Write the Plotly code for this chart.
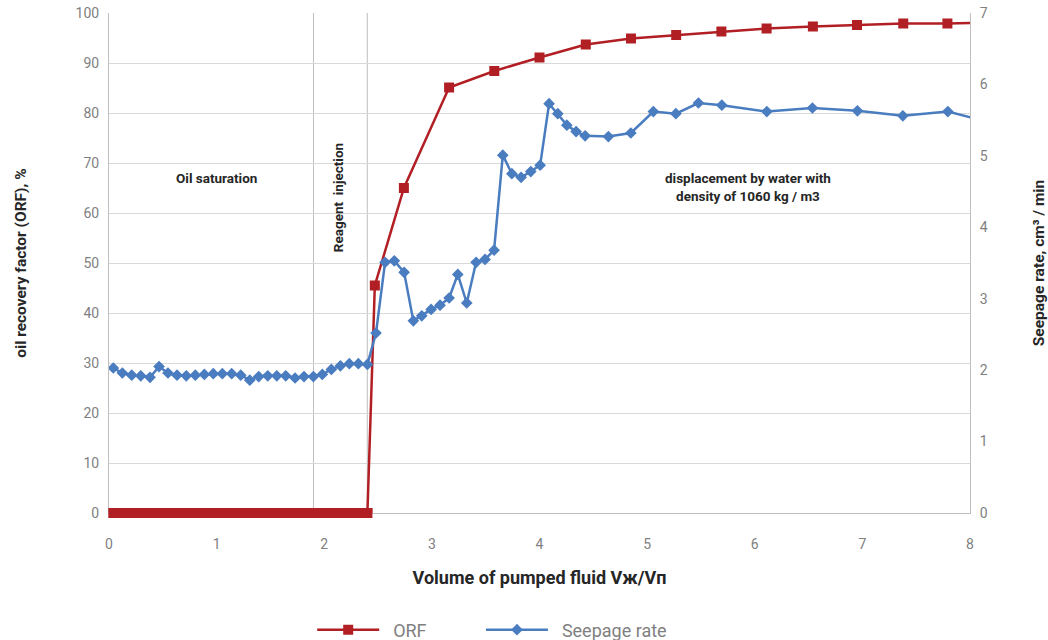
import plotly.graph_objects as go

# ---- data ----
seep_x = [0.040, 0.124, 0.211, 0.295, 0.381, 0.465, 0.548, 0.632, 0.718, 0.802,
          0.886, 0.969, 1.053, 1.140, 1.224, 1.308, 1.391, 1.475, 1.559, 1.642,
          1.729, 1.812, 1.899, 1.982, 2.066, 2.150, 2.233, 2.317, 2.401, 2.481,
          2.565, 2.651, 2.742, 2.828, 2.906, 2.993, 3.076, 3.160, 3.241, 3.324,
          3.411, 3.494, 3.578, 3.659, 3.743, 3.829, 3.919, 4.006, 4.089, 4.170,
          4.254, 4.340, 4.424, 4.640, 4.849, 5.058, 5.267, 5.477, 5.694, 6.112,
          6.536, 6.954, 7.376, 7.794, 8.210]
seep_y = [2.03, 1.96, 1.93, 1.92, 1.90, 2.05, 1.96, 1.93, 1.92, 1.93,
          1.94, 1.95, 1.95, 1.95, 1.93, 1.86, 1.91, 1.92, 1.92, 1.92,
          1.89, 1.91, 1.91, 1.94, 2.01, 2.06, 2.09, 2.09, 2.08, 2.52,
          3.51, 3.53, 3.37, 2.69, 2.76, 2.85, 2.91, 3.01, 3.34, 2.94,
          3.51, 3.55, 3.68, 5.01, 4.75, 4.70, 4.78, 4.87, 5.73, 5.59,
          5.43, 5.34, 5.28, 5.27, 5.32, 5.62, 5.59, 5.74, 5.71, 5.62,
          5.67, 5.63, 5.56, 5.62, 5.46]

orf_zero_x = seep_x[:29]
orf_zero_y = [0] * len(orf_zero_x)
orf_x = orf_zero_x + [2.47, 2.74, 3.16, 3.58, 4.00, 4.43, 4.85, 5.27, 5.69,
                      6.11, 6.54, 6.95, 7.38, 7.79, 8.21]
orf_y = orf_zero_y + [45.5, 65.0, 85.1, 88.4, 91.1, 93.7, 94.9,
                      95.6, 96.3, 96.9, 97.3, 97.6, 97.9, 97.9, 98.1]

x_ticks = [0, 1, 2, 3, 4, 5, 6, 7, 8]
left_ticks = [0, 10, 20, 30, 40, 50, 60, 70, 80, 90, 100]
right_ticks = [0, 1, 2, 3, 4, 5, 6, 7]
phase_boundaries = [1.9, 2.4]

RED = "#B11F24"
BLUE = "#4A7CC0"
GRID = "#D9D9D9"
TICK = "#7F7F7F"
FONT = "Roboto"
NB = "\u00a0"

fig = go.Figure()
fig.add_trace(go.Scatter(
    x=orf_x, y=orf_y, name=NB * 2 + "ORF", mode="lines+markers",
    line=dict(color=RED, width=2.5),
    marker=dict(symbol="square", size=10, color=RED),
    yaxis="y", legend="legend"))
# zero-level squares drawn unclipped so they sit fully across the baseline
fig.add_trace(go.Scatter(
    x=orf_zero_x, y=orf_zero_y, mode="markers", showlegend=False, hoverinfo="skip",
    marker=dict(symbol="square", size=10, color=RED), cliponaxis=False,
    yaxis="y"))
fig.add_trace(go.Scatter(
    x=seep_x, y=seep_y, name=NB * 2 + "Seepage rate", mode="lines+markers",
    line=dict(color=BLUE, width=2.5),
    marker=dict(symbol="diamond", size=9, color=BLUE),
    yaxis="y2", legend="legend2"))

for xb in phase_boundaries:
    fig.add_shape(type="line", xref="x", yref="paper", x0=xb, x1=xb, y0=0, y1=1,
                  line=dict(color="#BFBFBF", width=1), layer="below")

ann_font = dict(family=FONT, size=13.5, color="#262626")
fig.add_annotation(x=1.0, y=67, xref="x", yref="y", text="<b>Oil saturation</b>",
                   showarrow=False, font=ann_font)
fig.add_annotation(x=2.13, y=63, xref="x", yref="y", text="<b>Reagent  injection</b>",
                   showarrow=False, textangle=-90, font=ann_font)
fig.add_annotation(x=5.94, y=65.2, xref="x", yref="y",
                   text="<b>displacement by water with<br>density of 1060 kg / m3</b>",
                   showarrow=False, font=ann_font, align="center")

legend_style = dict(orientation="h", y=-0.234, xanchor="left", yanchor="middle",
                    font=dict(size=18, color=TICK, family=FONT), itemwidth=62,
                    bgcolor="rgba(0,0,0,0)")

fig.update_layout(
    width=1048, height=640,
    margin=dict(l=109, r=78, t=13, b=127, autoexpand=False),
    paper_bgcolor="white", plot_bgcolor="white",
    font=dict(family=FONT, color=TICK, size=14),
    xaxis=dict(range=[0, 8], tickvals=x_ticks, showgrid=False, zeroline=False,
               showline=True, linecolor="#BFBFBF", linewidth=1, automargin=False,
               layer="below traces", ticklabelstandoff=18, ticklabeloverflow="allow",
               ticks="", tickfont=dict(size=14, color=TICK),
               title=dict(text="<b>Volume of pumped fluid Vж/Vп</b>",
                          font=dict(size=18, color="#262626", family=FONT),
                          standoff=20)),
    yaxis=dict(range=[0, 100], tickvals=left_ticks, showgrid=True, gridcolor=GRID,
               gridwidth=1, zeroline=False, showline=True, linecolor="#BFBFBF",
               automargin=False, layer="below traces", ticklabeloverflow="allow",
               ticks="", ticklabelstandoff=6, tickfont=dict(size=14, color=TICK),
               title=dict(text="<b>oil recovery factor (ORF), %</b>",
                          font=dict(size=15.5, color="#262626", family=FONT),
                          standoff=45)),
    yaxis2=dict(range=[0, 7], tickvals=right_ticks, overlaying="y", side="right",
                showgrid=False, zeroline=False, showline=True, linecolor="#BFBFBF",
                automargin=False, layer="below traces", ticklabeloverflow="allow",
                ticks="", ticklabelstandoff=6, tickfont=dict(size=14, color=TICK),
                title=dict(text="<b>Seepage rate, cm³ / min</b>",
                           font=dict(size=15.5, color="#262626", family=FONT),
                           standoff=46)),
    legend=dict(x=0.236, **legend_style),
    legend2=dict(x=0.432, **legend_style),
    showlegend=True,
)

fig.write_html("out.html", config={"displayModeBar": False},
               post_script="document.body.style.margin='0';")
